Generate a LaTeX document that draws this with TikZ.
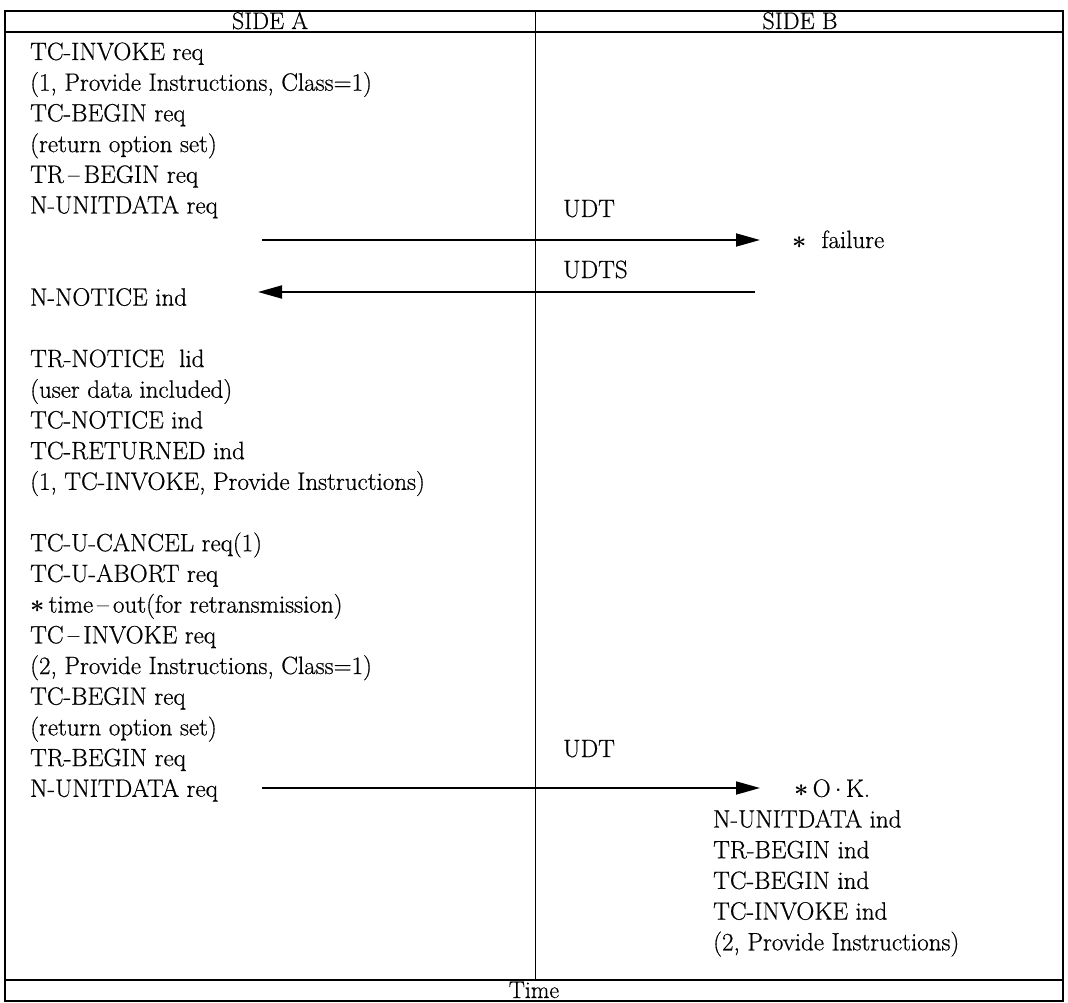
\documentclass[tikz,border=0pt]{standalone}
\usepackage{fontspec}
\setmainfont{Latin Modern Roman}[FakeBold=0.6]
\usetikzlibrary{arrows.meta}
\newcommand{\rb}[1]{{60+(#1-1)*30.7}}
\newcommand{\stx}{\mbox{\boldmath$\ast$}}
\newcommand{\ld}{\,\textendash\,}
\begin{document}
\begin{tikzpicture}[x=1pt,y=-1pt,
  lbl/.style={anchor=base west, inner sep=0pt, font=\fontsize{25}{30}\selectfont},
  hdr/.style={anchor=base, inner sep=0pt, font=\fontsize{24}{29}\selectfont},
  frame/.style={line width=1.6pt},
  divider/.style={line width=0.9pt},
  msg/.style={line width=1.8pt, -{Triangle[length=24pt,width=13pt]}}]
\useasboundingbox (0,0) rectangle (1068,1003);
% frame
\draw[frame] (5,11) rectangle (1063,1001);
\draw[frame] (5,32) -- (1063,32);
\draw[frame] (5,980) -- (1063,980);
\draw[divider] (535,11) -- (535,980);
% headers
\node[hdr] (sa) at (270,29) {SIDE A};
\node[hdr] (sb) at (800,29) {SIDE B};
\node[hdr] (tm) at (534,998) {Time};
% side A, first attempt
\node[lbl] (l1) at (30,\rb{1}) {TC-INVOKE req};
\node[lbl] (l2) at (30,\rb{2}) {(1, Provide Instructions, Class=1)};
\node[lbl] (l3) at (30,\rb{3}) {TC-BEGIN req};
\node[lbl] (l4) at (30,\rb{4}) {(return option set)};
\node[lbl] (l5) at (30,\rb{5}) {TR\ld BEGIN req};
\node[lbl] (l6) at (30,\rb{6}) {N-UNITDATA req};
\node[lbl] (udt1) at (563,217) {UDT};
\coordinate (m1s) at (262,240);
\coordinate (m1e) at (760,240);
\draw[msg] (m1s) -- (m1e);
\node[lbl] (fail) at (792,248) {\stx\ \ failure};
\node[lbl] (udts) at (563,278) {UDTS};
\coordinate (m2s) at (755,292);
\coordinate (m2e) at (258,292);
\draw[msg] (m2s) -- (m2e);
\node[lbl] (l9) at (30,\rb{9}) {N-NOTICE ind};
% notice block
\node[lbl] (l11) at (30,\rb{11}) {TR-NOTICE\ \ lid};
\node[lbl] (l12) at (30,\rb{12}) {(user data included)};
\node[lbl] (l13) at (30,\rb{13}) {TC-NOTICE ind};
\node[lbl] (l14) at (30,\rb{14}) {TC-RETURNED ind};
\node[lbl] (l15) at (30,\rb{15}) {(1, TC-INVOKE, Provide Instructions)};
% second attempt
\node[lbl] (l17) at (30,\rb{17}) {TC-U-CANCEL req(1)};
\node[lbl] (l18) at (30,\rb{18}) {TC-U-ABORT req};
\node[lbl] (l19) at (30,\rb{19}) {\stx\,time\ld out(for retransmission)};
\node[lbl] (l20) at (30,\rb{20}) {TC\ld INVOKE req};
\node[lbl] (l21) at (30,\rb{21}) {(2, Provide Instructions, Class=1)};
\node[lbl] (l22) at (30,\rb{22}) {TC-BEGIN req};
\node[lbl] (l23) at (30,\rb{23}) {(return option set)};
\node[lbl] (l24) at (30,\rb{24}) {TR-BEGIN req};
\node[lbl] (l25) at (30,\rb{25}) {N-UNITDATA req};
\node[lbl] (udt2) at (563,757) {UDT};
\coordinate (m3s) at (262,788);
\coordinate (m3e) at (760,788);
\draw[msg] (m3s) -- (m3e);
\node[lbl] (ok) at (794,\rb{25}) {\stx\,O\,$\cdot$\,K.};
% side B indications
\node[lbl] (r26) at (713,\rb{26}) {N-UNITDATA ind};
\node[lbl] (r27) at (713,\rb{27}) {TR-BEGIN ind};
\node[lbl] (r28) at (713,\rb{28}) {TC-BEGIN ind};
\node[lbl] (r29) at (713,\rb{29}) {TC-INVOKE ind};
\node[lbl] (r30) at (713,\rb{30}) {(2, Provide Instructions)};
\end{tikzpicture}
\end{document}
